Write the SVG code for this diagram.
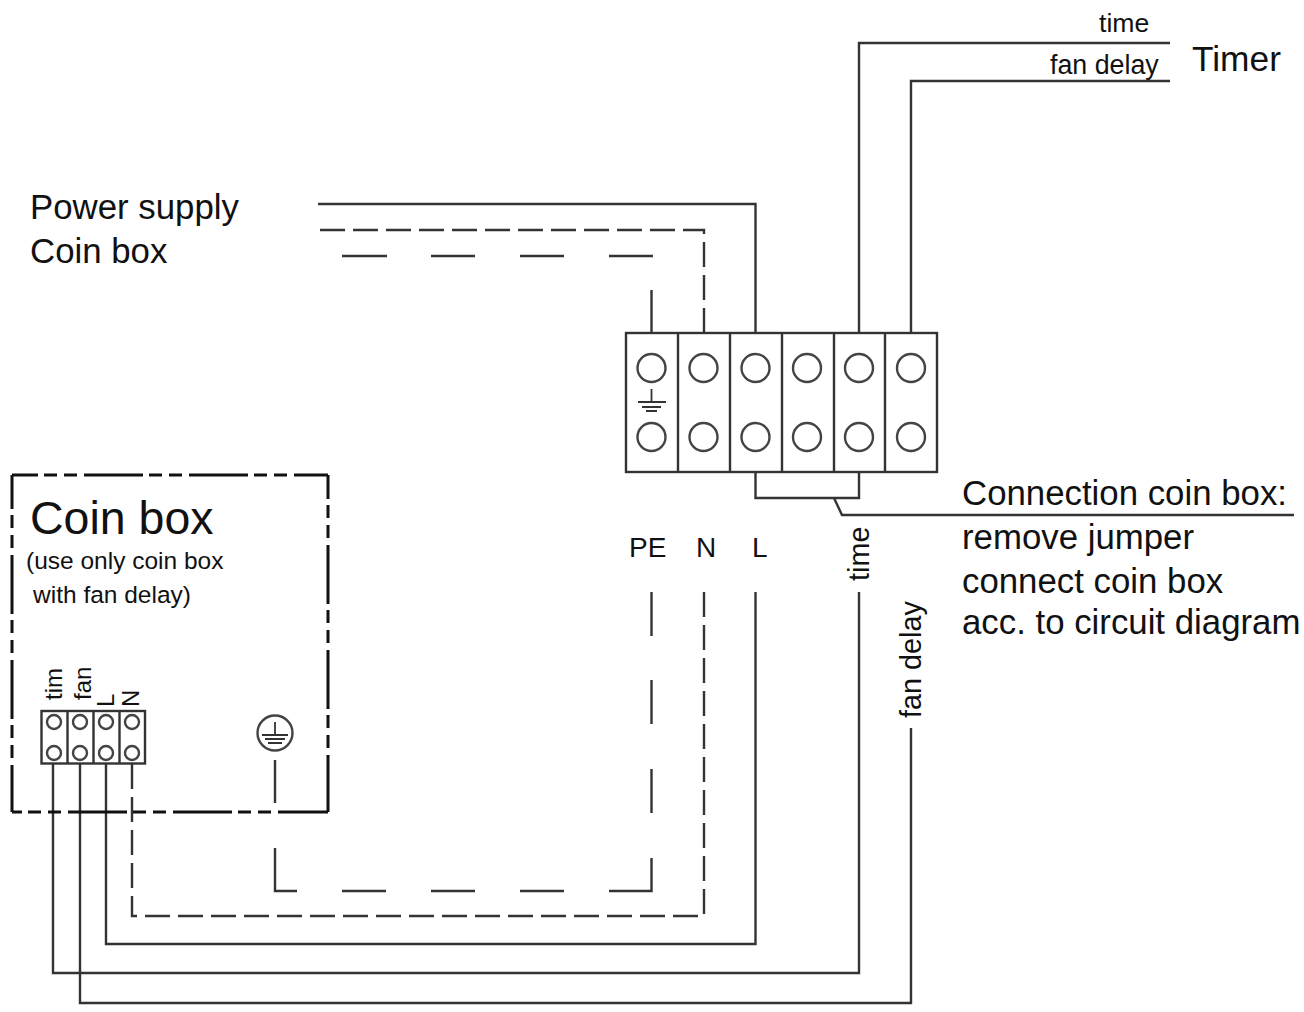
<svg xmlns="http://www.w3.org/2000/svg" width="1304" height="1012" viewBox="0 0 1304 1012">
<style>
text{font-family:"Liberation Sans",Arial,sans-serif;fill:#111}
.w{fill:none;stroke:#333;stroke-width:2.400}
.n{stroke-dasharray:25 8}
.b{fill:none;stroke:#111;stroke-width:3;stroke-dasharray:59 6 13 7 13 7}
.t{fill:#fff;stroke:#333;stroke-width:2.400}
.c{fill:#fff;stroke:#444;stroke-width:2.400}
.e{fill:none;stroke:#333;stroke-width:1.800}
</style>
<rect width="1304" height="1012" fill="#fff"/>
<g id="connectors">
<path class="w" d="M318 204H755.500V333"/>
<path class="w n" d="M320 230H704V333"/>
<path class="w" d="M342 256H387M431 256H475M520 256H564M609 256H653"/>
<path class="w" d="M651.500 290V333"/>
<path class="w" d="M859 333V43H1170"/>
<path class="w" d="M911 333V81H1170"/>
<path class="w" d="M755.500 472V498H859V472"/>
<path class="w" d="M834 498L842 515H1294"/>
<path class="w" d="M651.500 592V636M651.500 680V724M651.500 769V813M651.500 858V891H609M564 891H520M475 891H431M386 891H342M297 891H275V848"/>
<path class="w" d="M275 760V803"/>
<path class="w n" d="M704 592V916H132V764"/>
<path class="w" d="M755.500 592V944H106V764"/>
<path class="w" d="M859 592V973H53V764"/>
<path class="w" d="M911 728V1003H80V764"/>
</g>
<g id="coin-box">
<path class="b" d="M12 475H328" stroke-dashoffset="33"/>
<path class="b" d="M12 475V812" stroke-dashoffset="25"/>
<path class="b" d="M328 475V812" stroke-dashoffset="35"/>
<path class="b" d="M12 812H328" stroke-dashoffset="49"/>
<text x="30" y="534" font-size="46.500">Coin box</text>
<text x="26" y="569" font-size="24.500">(use only coin box</text>
<text x="33" y="603" font-size="24.500">with fan delay)</text>
</g>
<g id="coin-terminal">
<rect class="t" x="41.500" y="711" width="103.500" height="52.500"/>
<path class="w" d="M67.500 711V763.500M93.500 711V763.500M119.500 711V763.500"/>
<circle class="c" cx="54" cy="722" r="7"/><circle class="c" cx="80" cy="722" r="7"/><circle class="c" cx="106" cy="722" r="7"/><circle class="c" cx="132" cy="722" r="7"/>
<circle class="c" cx="54" cy="753" r="7"/><circle class="c" cx="80" cy="753" r="7"/><circle class="c" cx="106" cy="753" r="7"/><circle class="c" cx="132" cy="753" r="7"/>
<text transform="translate(62 700) rotate(-90)" font-size="24">tim</text>
<text transform="translate(91 700) rotate(-90)" font-size="24">fan</text>
<text transform="translate(114 707) rotate(-90)" font-size="24">L</text>
<text transform="translate(139 707) rotate(-90)" font-size="24">N</text>
</g>
<g id="pe-symbol">
<circle class="c" cx="275" cy="733" r="17.500"/>
<path class="e" d="M275 722V735M262 735H288M265 739H285M268 743H282"/>
</g>
<g id="terminal-block">
<rect class="t" x="626" y="333" width="311" height="139"/>
<path class="w" d="M678 333V472M730 333V472M782 333V472M834 333V472M885 333V472"/>
<circle class="c" cx="651.500" cy="368" r="14"/><circle class="c" cx="703.500" cy="368" r="14"/><circle class="c" cx="755.500" cy="368" r="14"/><circle class="c" cx="807" cy="368" r="14"/><circle class="c" cx="859" cy="368" r="14"/><circle class="c" cx="911" cy="368" r="14"/>
<circle class="c" cx="651.500" cy="437" r="14"/><circle class="c" cx="703.500" cy="437" r="14"/><circle class="c" cx="755.500" cy="437" r="14"/><circle class="c" cx="807" cy="437" r="14"/><circle class="c" cx="859" cy="437" r="14"/><circle class="c" cx="911" cy="437" r="14"/>
<path class="e" d="M651.500 389V402M638 402H666M642 407H661M646 411H657"/>
</g>
<g id="labels">
<text x="30" y="219" font-size="34.800">Power supply</text>
<text x="30" y="263" font-size="34.800">Coin box</text>
<text x="1099" y="32" font-size="26.600">time</text>
<text x="1050" y="74" font-size="26.800">fan delay</text>
<text x="1192" y="71" font-size="35.300">Timer</text>
<text x="629" y="557" font-size="28">PE</text>
<text x="696" y="557" font-size="28">N</text>
<text x="752" y="557" font-size="28">L</text>
<text transform="translate(869 581) rotate(-90)" font-size="28.800">time</text>
<text transform="translate(921 718) rotate(-90)" font-size="28.800">fan delay</text>
<text x="962" y="505" font-size="34.800">Connection coin box:</text>
<text x="962" y="549" font-size="34.800">remove jumper</text>
<text x="962" y="593" font-size="34.800">connect coin box</text>
<text x="962" y="634" font-size="34.800">acc. to circuit diagram</text>
</g>
</svg>
